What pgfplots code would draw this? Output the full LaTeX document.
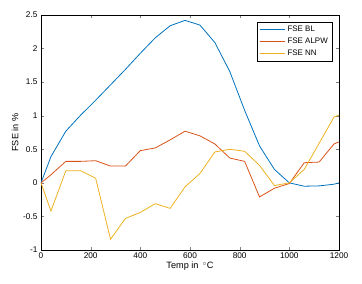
\documentclass[border=0pt]{standalone}
\usepackage{pgfplots}
\pgfplotsset{compat=1.18}
\usepackage{fontspec}
\setmainfont{Liberation Sans}
\definecolor{mblue}{rgb}{0,0.447,0.741}
\definecolor{mred}{rgb}{0.85,0.325,0.098}
\definecolor{myel}{rgb}{0.929,0.694,0.125}
\begin{document}
\begin{tikzpicture}
\begin{axis}[
  name=a,
  scale only axis, width=298bp, height=235bp,
  xmin=0, xmax=1200, ymin=-1, ymax=2.5,
  xtick={0,200,...,1200}, ytick={-1,-0.5,0,0.5,1,1.5,2,2.5},
  xticklabels={0,200,400,600,800,1000,1200},
  yticklabels={-1,-0.5,0,0.5,1,1.5,2,2.5},
  tick align=inside, tick pos=both,
  major tick length=3bp,
  tick label style={font=\fontsize{8.3}{9}\selectfont},
  xticklabel style={yshift=1pt},
  label style={font=\fontsize{9.2}{10}\selectfont},
  xlabel={Temp in \,$^{\circ}$C}, ylabel={FSE in \%},
  xlabel style={yshift=3pt}, ylabel style={yshift=-2pt},
  axis line style={black, line width=0.5pt},
  every axis plot/.append style={line width=0.8pt},
  legend style={at={(0.9765,0.970)}, anchor=north east, font=\fontsize{8}{9}\selectfont, draw=black, line width=0.4pt, row sep=0.8pt, inner sep=2pt},
  legend cell align=left,
  legend image post style={xscale=1.5, line width=0.7pt},
]
\addplot[mblue] coordinates {(0,0) (40,0.39) (100,0.77) (160,1.01) (220,1.23) (280,1.46) (340,1.69) (400,1.93) (460,2.16) (520,2.34) (580,2.42) (640,2.35) (700,2.09) (760,1.66) (820,1.08) (880,0.55) (940,0.20) (1000,0.0) (1060,-0.05) (1120,-0.045) (1180,-0.02) (1200,0.0)};
\addlegendentry{FSE BL}
\addplot[mred] coordinates {(0,0) (40,0.12) (100,0.32) (160,0.32) (220,0.33) (280,0.25) (340,0.25) (400,0.48) (460,0.52) (520,0.64) (580,0.77) (640,0.70) (700,0.58) (760,0.37) (820,0.32) (880,-0.21) (940,-0.08) (1000,-0.01) (1060,0.30) (1120,0.31) (1180,0.58) (1200,0.61)};
\addlegendentry{FSE ALPW}
\addplot[myel] coordinates {(0,0) (40,-0.42) (100,0.18) (160,0.18) (220,0.07) (280,-0.84) (340,-0.53) (400,-0.44) (460,-0.31) (520,-0.38) (580,-0.06) (640,0.14) (700,0.46) (760,0.50) (820,0.47) (880,0.26) (940,-0.04) (1000,0.0) (1060,0.20) (1120,0.59) (1180,0.98) (1200,1.01)};
\addlegendentry{FSE NN}
\end{axis}
\pgfresetboundingbox
\path ([shift={(-41bp,-34bp)}]a.south west) rectangle ([shift={(23bp,15bp)}]a.north east);
\end{tikzpicture}
\end{document}
